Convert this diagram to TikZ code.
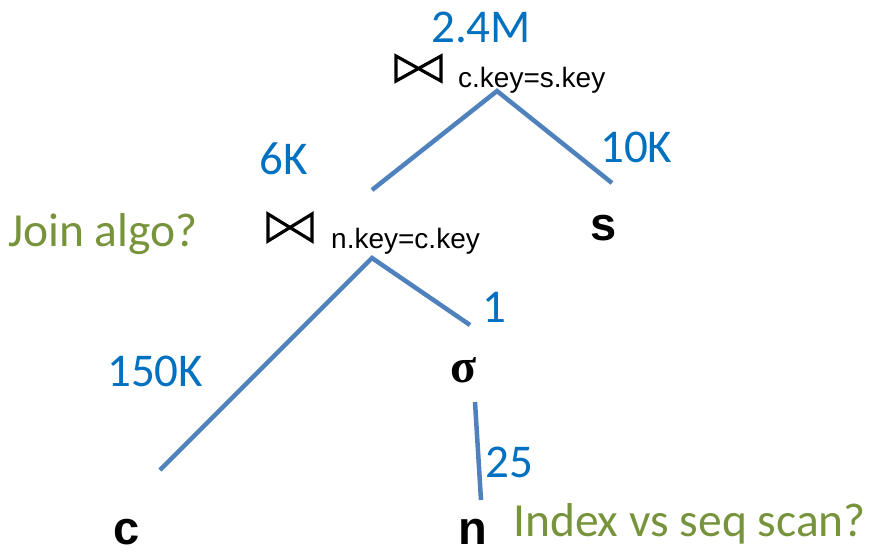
\documentclass[tikz,border=0pt]{standalone}
\usepackage{fontspec}
\setmainfont{Carlito}
\newfontfamily\arialfont{Liberation Sans}
\newfontfamily\timesfont{Liberation Serif}
\definecolor{edgeblue}{HTML}{4F81BD}
\definecolor{cardblue}{HTML}{0070C0}
\definecolor{notegreen}{HTML}{77933C}
\begin{document}
\begin{tikzpicture}[x=1pt,y=-1pt,
  edge/.style={draw=edgeblue,line width=4.5pt},
  card/.style={text=cardblue,font=\fontsize{47}{50}\selectfont,inner sep=0pt,anchor=base west},
  note/.style={text=notegreen,font=\fontsize{47.5}{52}\selectfont,inner sep=0pt,anchor=base west},
  rel/.style={font=\arialfont\bfseries\fontsize{47}{50}\selectfont,inner sep=0pt,anchor=base west},
  pred/.style={font=\arialfont\fontsize{28}{30}\selectfont,inner sep=0pt,anchor=base west},
  bowtie/.style={draw=black,line width=3.2pt,line join=miter}]
\useasboundingbox (0,0) rectangle (875,554);

% cardinality labels
\node[card] (n24m) at (431,42) {2.4M};
\node[card] (n6k) at (259,174) {6K};
\node[card] (n10k) at (600,162) {10K};
\node[card] (n150k) at (107,386) {150K};
\node[card] (n1) at (482,322) {1};
\node[card] (n25) at (485,477) {25};

% join symbols and predicates
\draw[bowtie] (396,56) -- (441,81) -- (441,56) -- (396,81) -- cycle;
\node[pred] (p1) at (458,87) {c.key=s.key};
\draw[bowtie] (268,214) -- (312,241) -- (312,214) -- (268,241) -- cycle;
\node[pred] (p2) at (331,248) {n.key=c.key};

% relations and selection
\node[rel] (s) at (590,240) {s};
\node[rel] (c) at (113,544) {c};
\node[rel] (n) at (458,544) {n};
\node[inner sep=0pt,anchor=base west,font=\timesfont\bfseries\fontsize{48}{50}\selectfont] (sig) at (450,382) {σ};

% notes
\node[note] (ja) at (8,246) {Join algo?};
\node[note] (ix) at (513,536) {Index vs seq scan?};

% tree edges
\coordinate (top) at (497,91);
\coordinate (topL) at (372,190);
\coordinate (topR) at (612,183);
\coordinate (mid) at (372,258);
\coordinate (midL) at (160,470);
\coordinate (midR) at (470,325);
\coordinate (selB) at (475,402);
\coordinate (nT) at (481,500);
\draw[edge] (topL) -- (top) -- (topR);
\draw[edge] (midL) -- (mid) -- (midR);
\draw[edge] (selB) -- (nT);
\end{tikzpicture}
\end{document}
